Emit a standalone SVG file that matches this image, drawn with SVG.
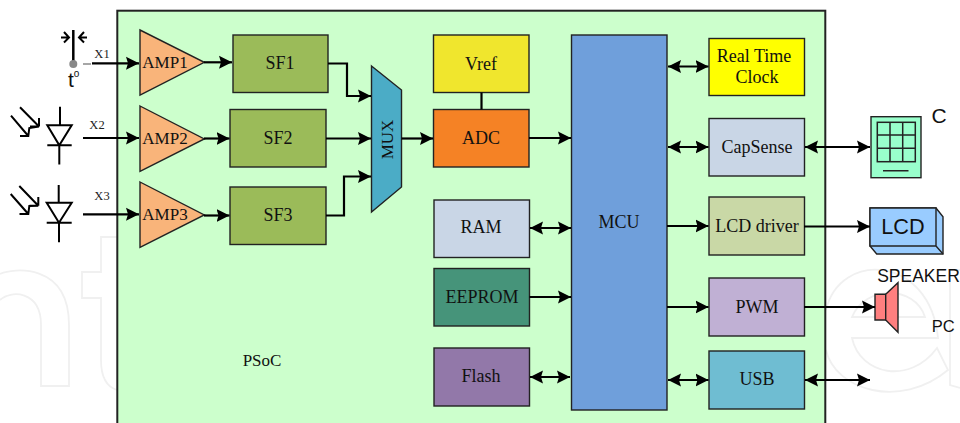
<svg xmlns="http://www.w3.org/2000/svg" width="960" height="423" viewBox="0 0 960 423">
<style>
.b{stroke:#222;stroke-width:1.4}
.t{font-family:"Liberation Serif",serif;font-size:18px;fill:#111;text-anchor:middle}
.p{font-size:17px}
.x{font-family:"Liberation Serif",serif;font-size:12.500px;fill:#222;text-anchor:middle}
.s{font-family:"Liberation Sans",sans-serif;fill:#111;text-anchor:middle}
.c{fill:none;stroke:#000;stroke-width:2.200}
.a{marker-end:url(#e)}
.d{marker-start:url(#r);marker-end:url(#e)}
.k{fill:none;stroke:#000;stroke-width:2}
.g{fill:none;stroke:#222;stroke-width:1.500}
</style>
<defs>
<marker id="e" markerUnits="userSpaceOnUse" markerWidth="13" markerHeight="14" refX="13" refY="7" orient="auto"><path d="M0 0.500L13 7L0 13.500L2 7Z" fill="#000"/></marker>
<marker id="r" markerUnits="userSpaceOnUse" markerWidth="13" markerHeight="14" refX="0" refY="7" orient="auto"><path d="M13 0.500L0 7L13 13.500L11 7Z" fill="#000"/></marker>
</defs>
<rect width="960" height="423" fill="#fff"/>
<g id="watermark" fill="none" stroke="#f0f0f0" stroke-width="1.800">
<path d="M0 274C12 268 69 262 69 325V386H41V325C41 290 10 290 0 300"/>
<path d="M117 237H101V272H82V298H101V360Q101 385 117 390"/>
<path d="M826 310C840 250 930 255 938 338H852C860 375 910 385 937 348L948 370C900 410 835 390 826 350"/>
<path d="M852 317C865 285 915 285 925 317Z"/>
<path d="M960 270H950V385L960 388"/>
</g>
<g id="psoc"><rect x="117.300" y="10.700" width="708" height="420" fill="#ccffcc" stroke="#222" stroke-width="2"/><text class="t p" x="262" y="366">PSoC</text></g>
<g id="amp1"><path class="b" d="M140 30L204.300 62.300L140 95Z" fill="#f9b47a"/><text class="t p" x="165" y="68">AMP1</text></g>
<g id="amp2"><path class="b" d="M140 106L204.300 139L140 171.300Z" fill="#f9b47a"/><text class="t p" x="165" y="144">AMP2</text></g>
<g id="amp3"><path class="b" d="M140 182L204.300 215L140 247.300Z" fill="#f9b47a"/><text class="t p" x="165" y="220">AMP3</text></g>
<g id="sf1"><rect class="b" x="233" y="35" width="95" height="57.500" fill="#9bbb59"/><text class="t" x="280" y="69">SF1</text></g>
<g id="sf2"><rect class="b" x="230" y="109.500" width="96" height="57.500" fill="#9bbb59"/><text class="t" x="278" y="144">SF2</text></g>
<g id="sf3"><rect class="b" x="230" y="187" width="96" height="57.500" fill="#9bbb59"/><text class="t" x="278" y="221">SF3</text></g>
<g id="mux"><path class="b" d="M371.500 66L401.500 90V187L371.500 212Z" fill="#4bacc6"/><text class="t p" transform="translate(393 139.500) rotate(-90)">MUX</text></g>
<g id="vref"><rect class="b" x="433.500" y="35" width="95.500" height="57.500" fill="#f0e62d"/><text class="t" x="481" y="70">Vref</text></g>
<g id="adc"><rect class="b" x="433.500" y="109.500" width="95.500" height="57.500" fill="#f58225"/><text class="t" x="481" y="144">ADC</text></g>
<g id="ram"><rect class="b" x="434" y="200" width="95.500" height="57.500" fill="#c9d6e6"/><text class="t" x="481" y="233">RAM</text></g>
<g id="eeprom"><rect class="b" x="434" y="268.500" width="95.500" height="57.500" fill="#46947a"/><text class="t" x="482" y="303">EEPROM</text></g>
<g id="flash"><rect class="b" x="434" y="348" width="95.500" height="58" fill="#9278a9"/><text class="t" x="481" y="382">Flash</text></g>
<g id="mcu"><rect class="b" x="571.500" y="35" width="95.500" height="375" fill="#6f9fdb"/><text class="t" x="619" y="228">MCU</text></g>
<g id="rtc"><rect class="b" x="709" y="38.500" width="95.500" height="57" fill="#ffff00"/><text class="t" x="754" y="62">Real Time</text><text class="t" x="757" y="83">Clock</text></g>
<g id="capsense"><rect class="b" x="709" y="118.500" width="95.500" height="57.500" fill="#c9d6e6"/><text class="t" x="757" y="153">CapSense</text></g>
<g id="lcddriver"><rect class="b" x="709" y="197" width="95.500" height="58" fill="#c9d8a6"/><text class="t" x="757" y="232">LCD driver</text></g>
<g id="pwm"><rect class="b" x="709" y="278" width="95.500" height="58" fill="#c0b0d4"/><text class="t" x="757" y="313">PWM</text></g>
<g id="usb"><rect class="b" x="709" y="351" width="95.500" height="58" fill="#6fbdd2"/><text class="t" x="757" y="385">USB</text></g>
<g id="thermo"><path d="M73.300 30V64" stroke="#000" stroke-width="2.500"/><circle cx="73.300" cy="64" r="4" fill="#888"/><path d="M83 64H91" stroke="#888" stroke-width="1.500"/><path class="k" d="M61 37.500H69M64 32L69 37.500L64 42.500M87 37.500H79M84 32L79 37.500L84 42.500"/><text class="s" x="71" y="86.500" font-size="21">t</text><text class="s" x="76.500" y="77" font-size="10">o</text></g>
<g id="diode1"><path class="k" d="M60 106.700V125.300M47.300 125.300H71.700L59.300 145.300ZM47.300 145.300H71.700M59.300 145.300V164.500"/><path class="k" d="M11 115.700L28.300 136M20 136H28.300L29.300 128L39 126.500M39 126.500H30M39 126.500V118M20 107.300L39 126.500"/></g>
<g id="diode2"><path class="k" d="M58.700 185V202.700M46.700 202.700H71.700L59 222.700ZM46.700 222.700H71.700M59 222.700V242.300"/><path class="k" d="M10.700 194L28.300 214M19.500 214H28.300L29.300 206L38.300 205.700M38.300 205.700H29.500M38.300 205.700V197M19.300 186L38.300 205.700"/></g>
<g id="keypad"><rect class="b" x="871" y="116.700" width="50" height="61" fill="#99ffcc"/><rect class="g" x="877.300" y="122.300" width="38" height="39.400"/><path class="g" d="M890 122.300V161.700M902.700 122.300V161.700M877.300 135H915.300M877.300 148.300H915.300M883 170.700H908.500"/><text class="s" x="939" y="122.700" font-size="21">C</text></g>
<g id="lcd"><path class="b" d="M870 208H936L943 216.700V254H876.700L870 246Z" fill="#99ccff"/><path class="b" d="M870 208H936V246H870ZM936 246L943 254" fill="#99ccff"/><text class="s" x="903" y="234.300" font-size="21.700">LCD</text></g>
<g id="speaker"><path class="b" d="M875 294.300H885.700V320H875Z" fill="#ff7f7f"/><path class="b" d="M885.700 294.300L898 282.700V332.300L885.700 320Z" fill="#ff7f7f"/><text class="s" x="918.500" y="281.700" font-size="17.500">SPEAKER</text><text class="s" x="943.300" y="331.700" font-size="16.500">PC</text></g>
<g id="connectors">
<text class="x" x="102" y="58">X1</text><text class="x" x="97" y="129">X2</text><text class="x" x="102" y="200">X3</text>
<path class="c a" d="M92 63.300H139"/><path class="c a" d="M83 138H139"/><path class="c a" d="M83 214.300H139"/>
<path class="c a" d="M204 62.300H232"/><path class="c a" d="M204 138.500H229.500"/><path class="c a" d="M204 215.500H229.500"/>
<path class="c a" d="M328 63.500H347V96H371"/><path class="c a" d="M326 138.500H371"/><path class="c a" d="M326 215.500H344V176.500H371"/>
<path class="c a" d="M401.500 138.500H433"/><path class="c" d="M481.500 92.500V109.500"/><path class="c a" d="M529 138H571"/>
<path class="c d" d="M530 228H571"/><path class="c a" d="M529.500 297H571"/><path class="c d" d="M530 377H570"/>
<path class="c d" d="M668 66.500H708.500"/><path class="c d" d="M668 147H708.500"/><path class="c a" d="M667 226H708.500"/><path class="c a" d="M667 307H708.500"/><path class="c d" d="M668 380H708.500"/>
<path class="c d" d="M805 147H870"/><path class="c a" d="M804 226.500H870"/><path class="c a" d="M804 307H875"/><path class="c d" d="M805 380H870"/>
</g>
</svg>
